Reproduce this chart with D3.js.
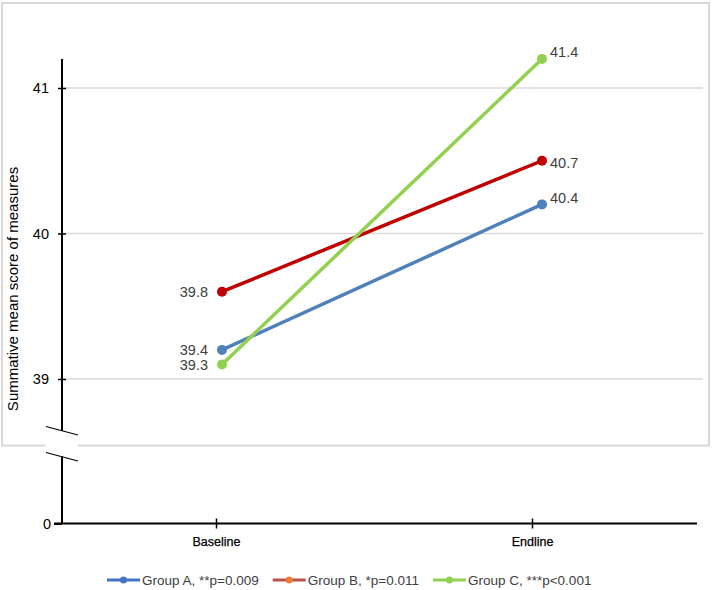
<!DOCTYPE html>
<html>
<head>
<meta charset="utf-8">
<script src="https://cdn.jsdelivr.net/npm/d3@7"></script>
<style>
  body { margin: 0; background: #fff; }
  svg { display: block; font-family: "Liberation Sans", Arial, sans-serif; }
</style>
</head>
<body>
<svg id="chart" width="712" height="590"></svg>
<script>
const categories = ["Baseline", "Endline"];
const seriesNames = ["Group A, **p=0.009", "Group B, *p=0.011", "Group C, ***p<0.001"];
// plotted positions
const groupA = [39.2, 40.2];
const groupB = [39.6, 40.5];
const groupC = [39.1, 41.2];
// the printed data labels (they differ a little from the plotted points)
const labelsA = ["39.4", "40.4"];
const labelsB = ["39.8", "40.7"];
const labelsC = ["39.3", "41.4"];
const yTicks = [39, 40, 41];

const lineColors = ["#4f81bd", "#c00000", "#92d050"];
const legendLine = ["#4472c4", "#c0504d", "#92d050"];
const legendDot = ["#4472c4", "#ed7d31", "#92d050"];

const series = [
  { name: seriesNames[0], values: groupA, labels: labelsA, color: lineColors[0], dy: [0, -6] },
  { name: seriesNames[1], values: groupB, labels: labelsB, color: lineColors[1], dy: [0, 2] },
  { name: seriesNames[2], values: groupC, labels: labelsC, color: lineColors[2], dy: [0, -7] },
];

const svg = d3.select("#chart");

const axisX = 62;
const xAxisY = 523.5;
const breakTop = 431;
const breakBottom = 456;

const y = d3.scaleLinear().domain([39, 41]).range([379, 88]);
const yLow = d3.scaleLinear().domain([0, 1]).range([xAxisY, xAxisY - 100]);
const x = d3.scalePoint().domain(categories).range([62, 702]).padding(0.5);
const xTick = d3.scalePoint().domain(categories).range([58, 690]).padding(0.5);

// outer frame
svg.append("rect")
  .attr("x", 2).attr("y", 3)
  .attr("width", 707).attr("height", 442.5)
  .attr("fill", "none")
  .attr("stroke", "#d9d9d9")
  .attr("stroke-width", 2);

// gridlines
svg.append("g")
  .selectAll("line")
  .data(yTicks)
  .join("line")
  .attr("x1", axisX).attr("x2", 703)
  .attr("y1", d => y(d)).attr("y2", d => y(d))
  .attr("stroke", "#d9d9d9")
  .attr("stroke-width", 1.5);

// upper y axis
const yAxisG = svg.append("g")
  .attr("transform", `translate(${axisX},0)`)
  .call(d3.axisLeft(y).tickValues(yTicks).tickFormat(d3.format("d")).tickSizeInner(4).tickSizeOuter(0).tickPadding(9));
yAxisG.select(".domain").remove();
yAxisG.selectAll(".tick line").attr("x2", -4).attr("x1", 4).attr("stroke", "#000").attr("stroke-width", 1.5);
yAxisG.selectAll(".tick text").attr("font-size", 14.5).attr("fill", "#000").attr("font-family", null);

svg.append("line")
  .attr("x1", axisX).attr("x2", axisX)
  .attr("y1", y(41.2)).attr("y2", breakTop)
  .attr("stroke", "#000").attr("stroke-width", 2);

// lower y axis (the 0 below the break)
const yLowG = svg.append("g")
  .attr("transform", `translate(${axisX},0)`)
  .call(d3.axisLeft(yLow).tickValues([0]).tickFormat(d3.format("d")).tickSizeInner(8).tickSizeOuter(0).tickPadding(3));
yLowG.select(".domain").remove();
yLowG.selectAll(".tick line").attr("stroke", "#000").attr("stroke-width", 2);
yLowG.selectAll(".tick text").attr("font-size", 14.5).attr("fill", "#000").attr("font-family", null);

svg.append("line")
  .attr("x1", axisX).attr("x2", axisX)
  .attr("y1", breakBottom).attr("y2", xAxisY)
  .attr("stroke", "#000").attr("stroke-width", 2);

// break: white gap over frame, then two slanted strokes
svg.append("rect")
  .attr("x", 45).attr("y", 437)
  .attr("width", 33).attr("height", 14)
  .attr("fill", "#fff");
[breakTop - 4.5, breakBottom - 3.5].forEach(yy => {
  svg.append("line")
    .attr("x1", 46).attr("y1", yy)
    .attr("x2", 78).attr("y2", yy + 8.5)
    .attr("stroke", "#000").attr("stroke-width", 1.2);
});

// x axis
svg.append("line")
  .attr("x1", 54).attr("x2", 697)
  .attr("y1", xAxisY).attr("y2", xAxisY)
  .attr("stroke", "#000").attr("stroke-width", 2.2);

const xAxisG = svg.append("g")
  .attr("transform", `translate(0,${xAxisY})`)
  .call(d3.axisBottom(xTick).tickSizeInner(5).tickSizeOuter(0));
xAxisG.select(".domain").remove();
xAxisG.selectAll(".tick line").attr("y1", -5).attr("y2", 5).attr("stroke", "#000").attr("stroke-width", 1.5);
xAxisG.selectAll(".tick text")
  .attr("y", 14)
  .attr("font-size", 12.5)
  .attr("fill", "#000")
  .attr("font-family", null)
  .attr("stroke", "#000")
  .attr("stroke-width", 0.25);

// y title
svg.append("text")
  .attr("transform", "translate(18,289) rotate(-90)")
  .attr("text-anchor", "middle")
  .attr("font-size", 15)
  .attr("fill", "#000")
  .text("Summative mean score of measures");

// series lines
const line = d3.line()
  .x((d, i) => x(categories[i]))
  .y(d => y(d));

const seriesG = svg.append("g");
series.forEach(s => {
  seriesG.append("path")
    .datum(s.values)
    .attr("d", line)
    .attr("fill", "none")
    .attr("stroke", s.color)
    .attr("stroke-width", 3.5);
});
series.forEach(s => {
  seriesG.selectAll(null)
    .data(s.values)
    .join("circle")
    .attr("cx", (d, i) => x(categories[i]))
    .attr("cy", d => y(d))
    .attr("r", 5)
    .attr("fill", s.color);
});

// data labels
series.forEach(s => {
  seriesG.selectAll(null)
    .data(s.values)
    .join("text")
    .attr("x", (d, i) => i === 0 ? x(categories[i]) - 14 : x(categories[i]) + 8)
    .attr("y", (d, i) => y(d) + s.dy[i])
    .attr("dy", "0.35em")
    .attr("text-anchor", (d, i) => i === 0 ? "end" : "start")
    .attr("font-size", 14.5)
    .attr("fill", "#404040")
    .text((d, i) => s.labels[i]);
});

// legend
const legendY = 580;
let lx = 107;
series.forEach((s, i) => {
  const g = svg.append("g").attr("transform", `translate(${lx},${legendY})`);
  g.append("line")
    .attr("x1", 0).attr("x2", 33)
    .attr("stroke", legendLine[i])
    .attr("stroke-width", 3);
  g.append("circle")
    .attr("cx", 16.5).attr("r", 3.5)
    .attr("fill", legendDot[i]);
  const t = g.append("text")
    .attr("x", 35)
    .attr("dy", "0.35em")
    .attr("font-size", 13.5)
    .attr("fill", "#404040")
    .text(s.name);
  lx += 35 + t.node().getComputedTextLength() + 14;
});
</script>
</body>
</html>
